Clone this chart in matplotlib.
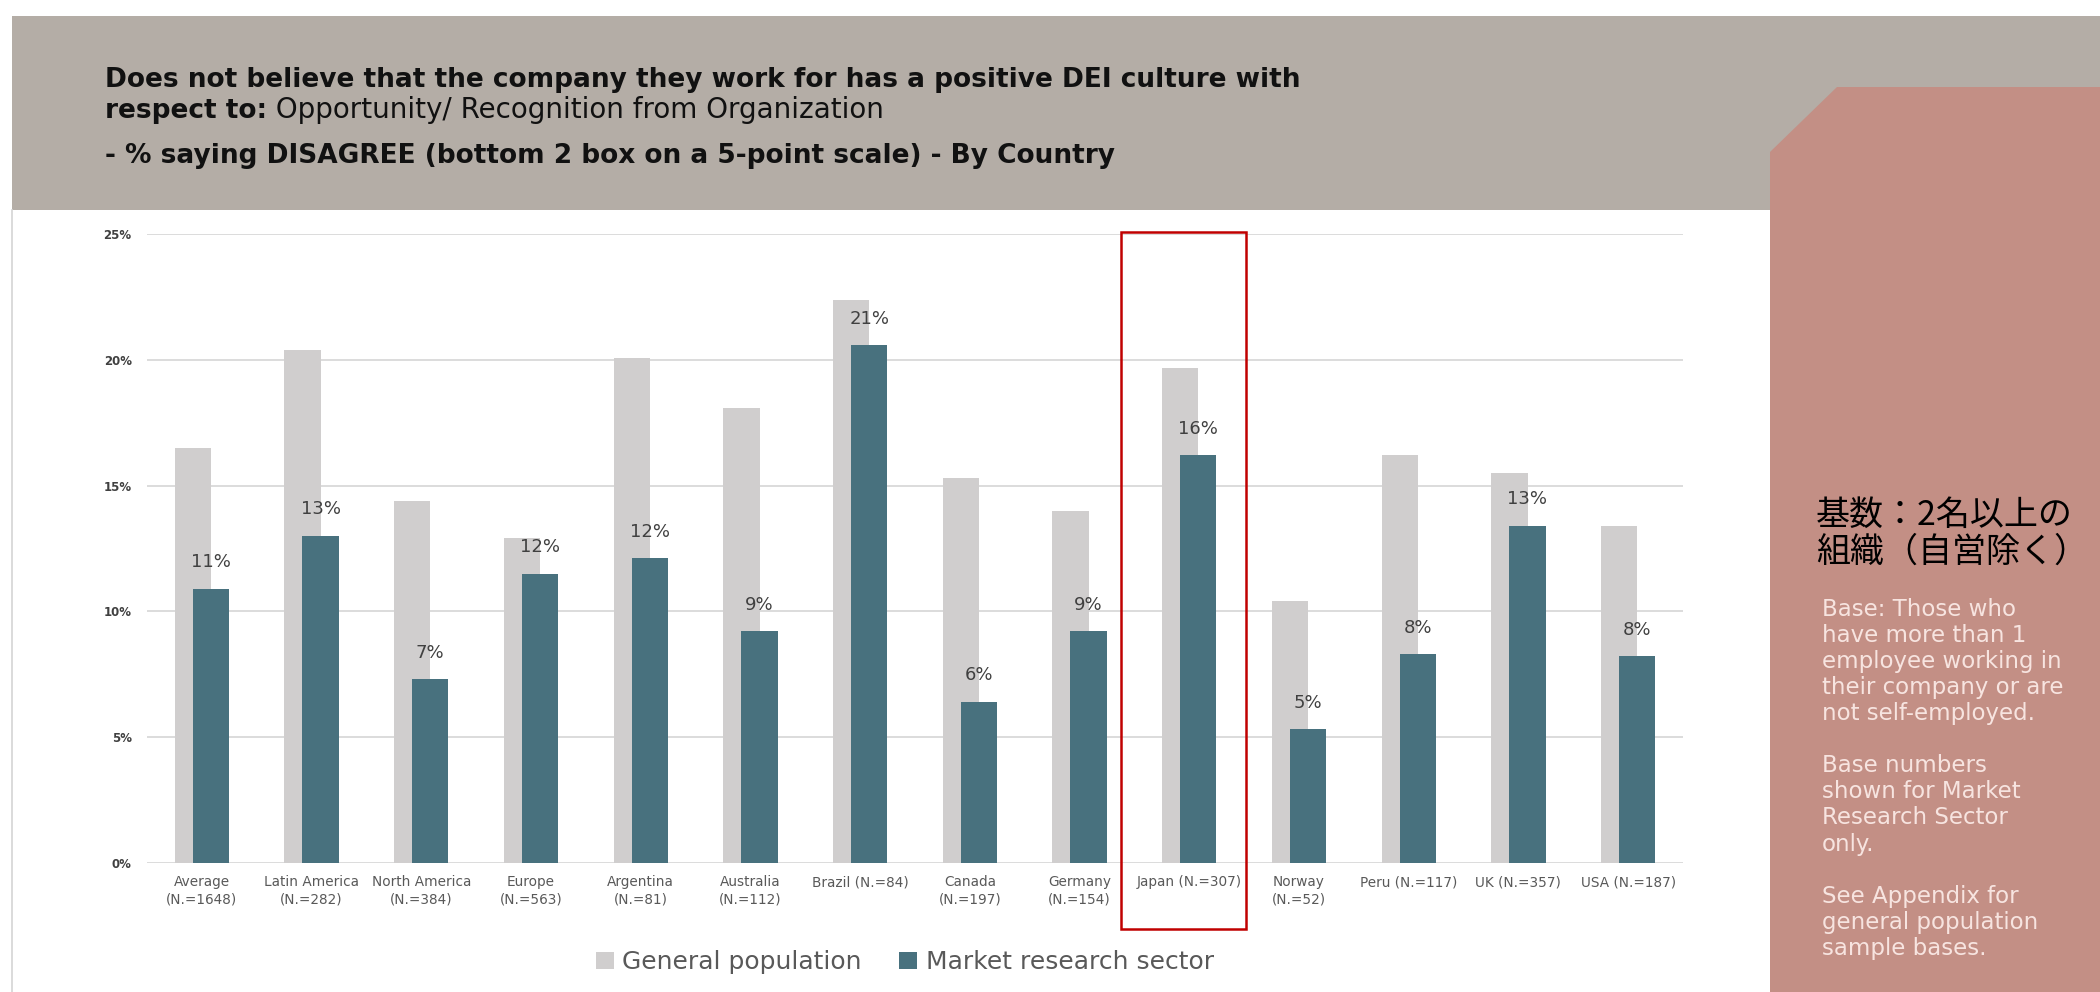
"""
DEI culture survey: share who DISAGREE (bottom 2 box) that their company has a
positive culture on Opportunity / Recognition, general population vs market
research sector, by country. Writes out.png (2100 x 992).
"""
import matplotlib.pyplot as plt
import numpy as np
from matplotlib.patches import Patch, Polygon, Rectangle

W, H, DPI = 2100, 992, 100

# --------------------------------------------------------------------------- #
# Data                                                                        #
# --------------------------------------------------------------------------- #
CATEGORIES = [
    "Average\n(N.=1648)", "Latin America\n(N.=282)", "North America\n(N.=384)",
    "Europe\n(N.=563)", "Argentina\n(N.=81)", "Australia\n(N.=112)",
    "Brazil (N.=84)", "Canada\n(N.=197)", "Germany\n(N.=154)", "Japan (N.=307)",
    "Norway\n(N.=52)", "Peru (N.=117)", "UK (N.=357)", "USA (N.=187)",
]
GENERAL_POP = [16.5, 20.4, 14.4, 12.9, 20.1, 18.1, 22.4,
               15.3, 14.0, 19.7, 10.4, 16.2, 15.5, 13.4]
MARKET_RESEARCH = [10.9, 13.0, 7.3, 11.5, 12.1, 9.2, 20.6,
                   6.4, 9.2, 16.2, 5.3, 8.3, 13.4, 8.2]
Y_TICKS = [0, 5, 10, 15, 20, 25]
SERIES_NAMES = ["General population", "Market research sector"]
HIGHLIGHT = "Japan (N.=307)"

TITLE_1 = "Does not believe that the company they work for has a positive DEI culture with"
TITLE_2A = "respect to:"
TITLE_2B = " Opportunity/ Recognition from Organization"
TITLE_3 = "- % saying DISAGREE (bottom 2 box on a 5-point scale) - By Country"
NOTE_JP = "基数：2名以上の\n組織（自営除く）"
NOTE_EN = ("Base: Those who\nhave more than 1\nemployee working in\n"
           "their company or are\nnot self-employed.\n\n"
           "Base numbers\nshown for Market\nResearch Sector\nonly.\n\n"
           "See Appendix for\ngeneral population\nsample bases.")

GREY_BAR = "#d0cece"
TEAL_BAR = "#48717e"
HEADER = "#b4ada6"
SIDE = "#c38f85"
RED = "#c00000"
TXT = "#595959"
TITLE_SIZE = 19

plt.rcParams["font.family"] = ["DejaVu Sans"]

fig = plt.figure(figsize=(W / DPI, H / DPI), dpi=DPI)

# --------------------------------------------------------------------------- #
# Background: header band, side panel, notes (pixel coordinates)             #
# --------------------------------------------------------------------------- #
bg = fig.add_axes([0, 0, 1, 1], zorder=0)
bg.set_xlim(0, W)
bg.set_ylim(H, 0)
bg.axis("off")

bg.add_patch(Rectangle((12, 16), W - 12, 194, facecolor=HEADER, edgecolor="none"))
bg.plot([12, 12], [210, H], color="#d4d4d4", lw=1.2)
bg.add_patch(Polygon([(1770, H), (1770, 152), (1837, 87), (W, 87), (W, H)],
                     closed=True, facecolor=SIDE, edgecolor="none"))

bg.text(105, 87, TITLE_1, fontsize=TITLE_SIZE, fontweight="bold",
        color="#111111", va="baseline")
t2 = bg.text(105, 118, TITLE_2A, fontsize=TITLE_SIZE, fontweight="bold",
             color="#111111", va="baseline")
bg.annotate(TITLE_2B, xy=(1, 0), xycoords=t2, fontsize=TITLE_SIZE + 1,
            color="#111111", va="bottom", ha="left")
bg.text(105, 163, TITLE_3, fontsize=TITLE_SIZE, fontweight="bold",
        color="#111111", va="baseline")

bg.text(1816, 498, NOTE_JP, fontsize=24.5, color="black", va="top", ha="left",
        linespacing=1.05, family=["Noto Sans CJK JP", "DejaVu Sans"])
bg.text(1822, 598, NOTE_EN, fontsize=16.5, color="#f7e4e0", va="top",
        ha="left", linespacing=1.17)

# --------------------------------------------------------------------------- #
# Chart                                                                       #
# --------------------------------------------------------------------------- #
ax = fig.add_axes([147 / W, 1 - 862.5 / H, (1683 - 147) / W, (862.5 - 234.4) / H],
                  zorder=1)
ax.set_facecolor("none")

x = np.arange(len(CATEGORIES))
bw, shift = 0.33, 0.082
ax.bar(x - shift, GENERAL_POP, bw, color=GREY_BAR, zorder=2)
bars = ax.bar(x + shift, MARKET_RESEARCH, bw, color=TEAL_BAR, zorder=3)
for r, v in zip(bars, MARKET_RESEARCH):
    ax.annotate(f"{int(v + 0.5)}%", (r.get_x() + r.get_width() / 2, v),
                xytext=(0, 19), textcoords="offset points", ha="center",
                va="center", fontsize=13, color="#404040", zorder=4)

ax.set_xlim(-0.5, len(CATEGORIES) - 0.5)
ax.set_ylim(0, 25)
ax.set_yticks(Y_TICKS)
ax.set_yticklabels([f"{t}%" for t in Y_TICKS], fontweight="bold")
ax.set_xticks(x)
ax.set_xticklabels(CATEGORIES, linespacing=1.35)
ax.tick_params(axis="y", length=0, pad=11, labelsize=8.5, labelcolor="#404040")
ax.tick_params(axis="x", length=0, pad=9, labelsize=9.8, labelcolor=TXT)
ax.grid(axis="y", color="#d9d9d9", lw=1.3, zorder=1)
for s in ax.spines.values():
    s.set_visible(False)

# highlight box round the Japan column
j = CATEGORIES.index(HIGHLIGHT)
ax.add_patch(Rectangle((j - 0.62, -2.65), 1.14, 25.08 + 2.65, fill=False,
                       edgecolor=RED, lw=1.8, clip_on=False, zorder=5))

handles = [Patch(facecolor=GREY_BAR), Patch(facecolor=TEAL_BAR)]
leg = fig.legend(handles, SERIES_NAMES, loc="center", ncol=2, frameon=False,
                 bbox_to_anchor=(905 / W, 1 - 962 / H), fontsize=18,
                 handlelength=0.7, handleheight=0.7, handletextpad=0.35,
                 columnspacing=1.5)
for t in leg.get_texts():
    t.set_color(TXT)

fig.savefig("out.png", dpi=DPI)
